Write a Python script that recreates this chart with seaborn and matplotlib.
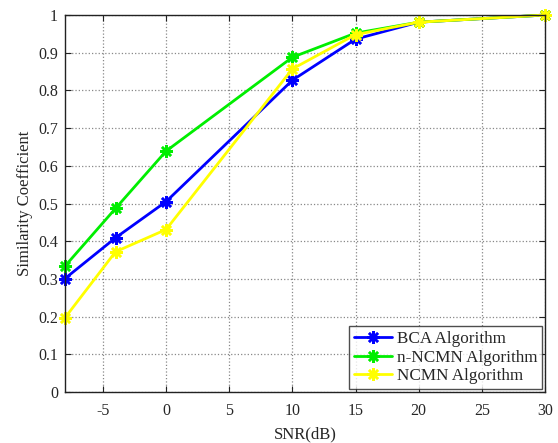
import pandas as pd
import matplotlib.pyplot as plt
import seaborn as sns

# data
snr = [-8, -4, 0, 10, 15, 20, 30]
bca = [0.301, 0.409, 0.505, 0.827, 0.936, 0.981, 1.0]
n_ncmn = [0.334, 0.487, 0.639, 0.888, 0.952, 0.981, 1.0]
ncmn = [0.197, 0.372, 0.431, 0.857, 0.948, 0.981, 1.0]
names = ['BCA Algorithm', 'n-NCMN Algorithm', 'NCMN Algorithm']
colors = ['#0000ff', '#00ee00', '#ffff00']

df = pd.DataFrame({
    'snr': snr * 3,
    'value': bca + n_ncmn + ncmn,
    'method': [n for n in names for _ in snr],
})

sns.set_style('white')
plt.rcParams['font.family'] = ['Liberation Serif', 'DejaVu Serif']
plt.rcParams['axes.unicode_minus'] = False

fig = plt.figure(figsize=(5.58, 4.43), dpi=100)
ax = fig.add_axes([0.1165, 0.1151, 0.8602, 0.851])

sns.lineplot(data=df, x='snr', y='value', hue='method', hue_order=names,
             palette=colors, marker=(8, 2, 0), markersize=9, markeredgewidth=1.8,
             linewidth=2, ax=ax)

# seaborn gives the markers a white edge; make them solid like the original
for line in ax.lines:
    line.set_markeredgecolor(line.get_color())
    line.set_markerfacecolor(line.get_color())
    line.set_clip_on(False)

ax.set_xlim(-8, 30)
ax.set_ylim(0, 1)
ax.set_xticks([-5, 0, 5, 10, 15, 20, 25, 30])
ax.set_yticks([i / 10 for i in range(11)])
ax.set_yticklabels(['0'] + ['0.%d' % i for i in range(1, 10)] + ['1'])
ax.grid(True, linestyle=':', color='#888888', linewidth=0.9)
ax.tick_params(direction='in', labelsize=11.5, length=4, color='#222222',
               top=True, right=True, bottom=True, left=True, labelcolor='#262626')
ax.tick_params(axis='x', pad=8)
ax.tick_params(axis='y', pad=5)
for s in ax.spines.values():
    s.set_color('#222222')
    s.set_linewidth(1.0)

ax.set_xlabel('SNR(dB)', fontsize=12, color='#262626', labelpad=5)
ax.set_ylabel('Similarity Coefficient', fontsize=12, color='#262626', labelpad=4)

handles, labels = ax.get_legend_handles_labels()
for h in handles:
    h.set_markeredgecolor(h.get_color())
leg = ax.legend(handles, labels, loc='lower right', fontsize=12.3, frameon=True,
                fancybox=False, edgecolor='#222222', borderaxespad=0.15,
                handlelength=2.2, labelspacing=0.15, handletextpad=0.3, borderpad=0.3)
leg.get_frame().set_linewidth(1.0)

plt.savefig('out.png', dpi=100)
